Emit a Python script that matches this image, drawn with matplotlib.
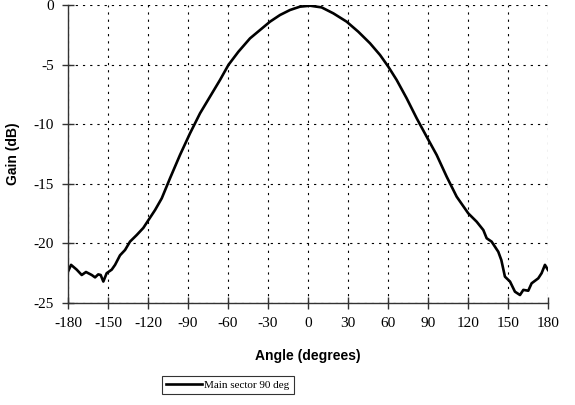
import matplotlib
matplotlib.use("Agg")
import matplotlib.pyplot as plt

angles = [-180, -177.7, -173.5, -169.7, -166.5, -162.2, -159.7, -157.3, -155.5, -153.5,
          -151, -147.2, -144.7, -141, -137.2, -133.5, -128.5, -123.5, -119.7, -114.7,
          -109.7, -103.5, -96, -88.5, -81, -73.5, -66, -59.7, -52.2, -43.5,
          -36, -28.5, -21, -13.5, -6, 1.5, 10.2, 19, 29, 37.7,
          46.5, 54, 60.2, 66.5, 74, 81.5, 89, 96.5, 104, 111.5,
          120.2, 126.5, 131.5, 134, 137.7, 142.7, 145, 147.7, 151.5, 155.2,
          159, 161.5, 165.2, 167.7, 172.7, 175.2, 177.7, 180]
gain = [-22.37, -21.8, -22.2, -22.65, -22.4, -22.65, -22.85, -22.6, -22.65, -23.2,
        -22.5, -22.2, -21.8, -21.0, -20.55, -19.85, -19.3, -18.7, -18.05, -17.2,
        -16.22, -14.54, -12.58, -10.77, -9.09, -7.69, -6.29, -5.03, -3.92, -2.8,
        -2.1, -1.4, -0.84, -0.42, -0.14, -0.06, -0.2, -0.7, -1.4, -2.24,
        -3.21, -4.19, -5.17, -6.29, -7.83, -9.5, -11.05, -12.58, -14.4, -16.08,
        -17.48, -18.18, -18.88, -19.57, -19.85, -20.7, -21.4, -22.79, -23.2, -24.05,
        -24.33, -23.9, -23.97, -23.35, -22.93, -22.5, -21.8, -22.23]

xticks = [-180, -150, -120, -90, -60, -30, 0, 30, 60, 90, 120, 150, 180]
yticks = [0, -5, -10, -15, -20, -25]
series_name = "Main sector 90 deg"

fig = plt.figure(figsize=(5.75, 4.05), dpi=100)
ax = fig.add_axes([68/575, 102/405, 480/575, 298/405])

ax.plot(angles, gain, color="black", lw=1.9, label=series_name)
ax.set_xlim(-180, 180)
ax.set_ylim(-25, 0)
ax.set_xticks(xticks)
ax.set_yticks(yticks)
ax.set_xticklabels([str(t) for t in xticks], fontfamily="Liberation Serif", fontsize=11)
ax.set_yticklabels([str(t) for t in yticks], fontfamily="Liberation Serif", fontsize=11)
ax.tick_params(direction="inout", length=8, width=1, color="#333333", pad=6)
ax.grid(True, color="black", linestyle=(0, (2, 4.5)), lw=0.8)
for s in ["top", "right"]:
    ax.spines[s].set_visible(False)
for s in ["left", "bottom"]:
    ax.spines[s].set_color("#333333")
    ax.spines[s].set_linewidth(1)
ax.set_xlabel("Angle (degrees)", fontfamily="Liberation Sans", fontweight="bold", fontsize=10, labelpad=14)
ax.set_ylabel("Gain (dB)", fontfamily="Liberation Sans", fontweight="bold", fontsize=10, labelpad=10)

leg = fig.legend(loc="center", bbox_to_anchor=(228/575, 1 - 385/405), frameon=True,
                 fancybox=False, edgecolor="black", handlelength=3.2,
                 prop={"family": "Liberation Serif", "size": 8}, borderpad=0.4,
                 handletextpad=0.2)
leg.get_frame().set_linewidth(0.8)

fig.savefig("out.png", dpi=100)
